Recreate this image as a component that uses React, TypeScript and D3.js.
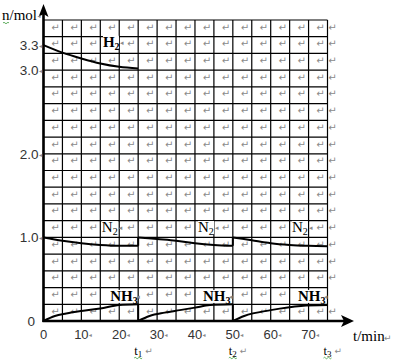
import React from 'react';
import * as d3 from 'd3';

// ---- data ----
const yTickValues = [0, 1.0, 2.0, 3.0, 3.3];
const yTickLabels = ['0', '1.0', '2.0', '3.0', '3.3'];
const xTickValues = [0, 10, 20, 30, 40, 50, 60, 70];
const xTickLabels = ['0', '10', '20', '30', '40', '50', '60', '70'];
const eventTimes = [25, 50, 75];
const eventLabels = ['1', '2', '3'];

const h2T = [0, 5, 10, 15, 20, 25];
const h2N = [3.3, 3.21, 3.14, 3.08, 3.04, 3.02];

const n2T1 = [0, 5, 10, 15, 20, 25];
const n2N1 = [1.0, 0.96, 0.93, 0.91, 0.9, 0.9];
const n2T2 = [25, 30, 35, 40, 45, 50];
const n2N2 = [1.0, 0.98, 0.96, 0.93, 0.91, 0.9];
const n2T3 = [50, 55, 60, 65, 70, 75];
const n2N3 = [1.0, 0.965, 0.93, 0.91, 0.9, 0.895];

const nh3T1 = [0, 3, 6, 10, 15, 20, 25];
const nh3N1 = [0, 0.06, 0.09, 0.12, 0.15, 0.19, 0.2];
const nh3T2 = [25, 28, 32, 36, 40, 44, 50];
const nh3N2 = [0, 0.06, 0.1, 0.13, 0.16, 0.19, 0.2];
const nh3T3 = [50, 53, 60, 68, 75];
const nh3N3 = [0, 0.06, 0.13, 0.18, 0.19];

const speciesNames = ['H', 'N', 'N', 'N', 'NH', 'NH', 'NH'];
const speciesSubs = ['2', '2', '2', '2', '3', '3', '3'];
const speciesBold = [true, false, false, false, true, true, true];
const labelT = [15.7, 15.4, 40.8, 65.6, 17.6, 42.1, 67.2];
const labelN = [3.28, 1.065, 1.065, 1.065, 0.24, 0.24, 0.24];

// ---- layout ----
const W = 393, H = 360;
const x = d3.scaleLinear().domain([0, 75]).range([43.5, 327.5]);
const y = d3.scaleLinear().domain([0, 3.6]).range([321, 20]);
const gridT = d3.range(0, 75.01, 5);
const gridN = d3.range(0, 3.601, 0.2);

const serif = '"Liberation Serif", "Times New Roman", serif';
const sans = '"Liberation Sans", Arial, sans-serif';
const markFont = '"DejaVu Sans", sans-serif';
const markColor = '#8a8a8a';

const line = d3
  .line<[number, number]>()
  .x((d) => x(d[0]))
  .y((d) => y(d[1]))
  .curve(d3.curveMonotoneX);

const zip = (t: number[], n: number[]) => t.map((v, i) => [v, n[i]] as [number, number]);

export default function App() {
  const segments = [
    zip(h2T, h2N),
    zip(n2T1, n2N1),
    zip(n2T2, n2N2),
    zip(n2T3, n2N3),
    zip(nh3T1, nh3N1),
    zip(nh3T2, nh3N2),
    zip(nh3T3, nh3N3),
  ];
  const jumps: [[number, number], [number, number]][] = [
    [segments[1][segments[1].length - 1], segments[2][0]],
    [segments[2][segments[2].length - 1], segments[3][0]],
    [segments[4][segments[4].length - 1], segments[5][0]],
    [segments[5][segments[5].length - 1], segments[6][0]],
  ];

  const labelBoxes = labelT.map((t, i) => {
    const bx = x(t);
    const by = y(labelN[i]);
    const w = speciesNames[i].length === 1 ? 16 : 25;
    return { bx, by, w };
  });

  const cells: { cx: number; cy: number }[] = [];
  for (let j = 0; j < gridN.length - 1; j++) {
    const top = y(gridN[j + 1]);
    for (let i = 0; i < gridT.length; i++) {
      const left = x(gridT[i]);
      const cx = i < gridT.length - 1 ? left + 12 : left + 5;
      const cy = top + 10.5;
      const hit = labelBoxes.some(
        (b) => cx + 4 > b.bx && cx - 4 < b.bx + b.w + 7 && cy > b.by - 11 && cy - 8 < b.by + 3
      );
      if (!hit) cells.push({ cx, cy });
    }
  }

  return (
    <svg
      width={W}
      height={H}
      style={{ position: 'absolute', left: 0, top: 0, background: '#fff' }}
    >
      <rect x={0} y={0} width={W} height={H} fill="#fff" />
      {cells.map((c, i) => (
        <text
          key={'m' + i}
          x={c.cx}
          y={c.cy}
          fontSize={10}
          fontFamily={markFont}
          fill={markColor}
          textAnchor="middle"
        >
          ↵
        </text>
      ))}
      {gridT.map((t, i) => (
        <line key={'v' + i} x1={x(t)} x2={x(t)} y1={y(0)} y2={y(3.6)} stroke="#000" strokeWidth={1.2} />
      ))}
      {gridN.map((n, i) => (
        <line key={'h' + i} x1={x(0)} x2={x(75)} y1={y(n)} y2={y(n)} stroke="#000" strokeWidth={1.2} />
      ))}
      {labelBoxes.map((b, i) => (
        <rect key={'lb' + i} x={b.bx} y={b.by - 11} width={b.w} height={13} fill="#fff" />
      ))}
      <line x1={x(0)} x2={x(0)} y1={y(0) + 1} y2={12} stroke="#000" strokeWidth={2.6} />
      <path d={`M${x(0)},4 L${x(0) - 5},17 L${x(0)},14 L${x(0) + 5},17 Z`} fill="#000" />
      <line x1={x(0) - 1} x2={346} y1={y(0)} y2={y(0)} stroke="#000" strokeWidth={2.6} />
      <path d={`M354,${y(0)} L341,${y(0) - 6} L344,${y(0)} L341,${y(0) + 6} Z`} fill="#000" />
      {segments.map((s, i) => (
        <path key={'s' + i} d={line(s) || ''} fill="none" stroke="#000" strokeWidth={2} />
      ))}
      {jumps.map((j, i) => (
        <line
          key={'j' + i}
          x1={x(j[0][0])}
          x2={x(j[1][0])}
          y1={y(j[0][1])}
          y2={y(j[1][1])}
          stroke="#000"
          strokeWidth={2}
        />
      ))}
      {labelBoxes.map((b, i) => (
        <g key={'sl' + i}>
          <text
            x={b.bx}
            y={b.by}
            fontFamily={serif}
            fontSize={15}
            fontWeight={speciesBold[i] ? 'bold' : 'normal'}
            fill="#000"
          >
            {speciesNames[i]}
            <tspan fontSize={10} dy={3}>
              {speciesSubs[i]}
            </tspan>
          </text>
          <text x={b.bx + b.w + 1} y={b.by - 2} fontSize={7} fill={markColor} fontFamily={markFont}>
            ◂
          </text>
        </g>
      ))}
      {yTickValues.map((v, i) => (
        <g key={'yt' + i}>
          <text
            x={v === 0 ? 35 : 38.5}
            y={y(v) + 5}
            fontFamily={sans}
            fontSize={13.5}
            fill="#333"
            textAnchor="end"
          >
            {yTickLabels[i]}
          </text>
          {v !== 0 && (
            <text x={39} y={y(v) + 3} fontSize={6} fill={markColor} fontFamily={markFont}>
              ◂
            </text>
          )}
        </g>
      ))}
      {xTickValues.map((v, i) => (
        <g key={'xt' + i}>
          <text x={x(v)} y={338.5} fontFamily={sans} fontSize={13} fill="#333" textAnchor="middle">
            {xTickLabels[i]}
          </text>
          {v !== 0 && (
            <text x={x(v) + 7.5} y={336.5} fontSize={6} fill={markColor} fontFamily={markFont}>
              ◂
            </text>
          )}
        </g>
      ))}
      {eventTimes.map((t, i) => (
        <g key={'ev' + i}>
          <text x={x(t) - 4} y={354.5} fontFamily={serif} fontSize={12.5} fill="#000">
            t
            <tspan fontSize={9} dy={2}>
              {eventLabels[i]}
            </tspan>
          </text>
          <text x={x(t) + 7} y={354} fontSize={9} fill={markColor} fontFamily={markFont}>
            ↵
          </text>
          <path
            d={`M${x(t) - 4},358 q1,-1.5 2,0 t2,0 t2,0 t2,0`}
            fill="none"
            stroke="#3a9a3a"
            strokeWidth={0.8}
          />
        </g>
      ))}
      <text x={2} y={20} fontFamily={serif} fontSize={15} fill="#000">
        n/mol
      </text>
      <text x={37.5} y={18} fontSize={6} fill={markColor} fontFamily={markFont}>
        ◂
      </text>
      <path d="M3,23 q1,-1.5 2,0 t2,0 t2,0" fill="none" stroke="#3a9a3a" strokeWidth={0.8} />
      <text x={353} y={341} fontFamily={serif} fontSize={15} fill="#000">
        t/min
      </text>
      <text x={384} y={341} fontSize={9} fill={markColor} fontFamily={markFont}>
        ↵
      </text>
    </svg>
  );
}
